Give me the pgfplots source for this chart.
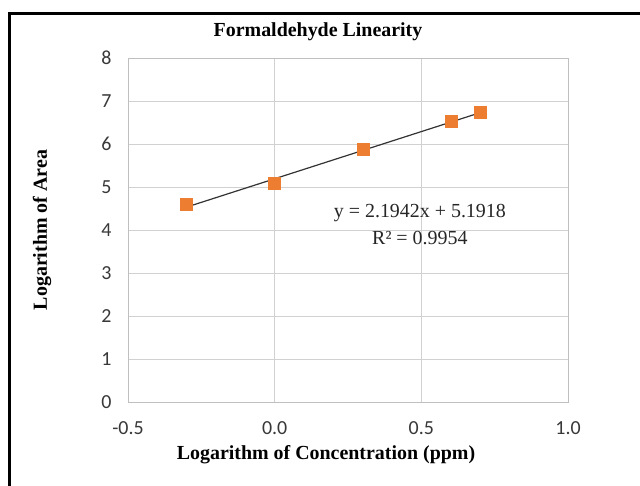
\documentclass[border=0pt]{standalone}
\usepackage{pgfplots}
\pgfplotsset{compat=1.18}
\usepackage{fontspec}
\setmainfont{Liberation Serif}
\newfontfamily\tickfont{Carlito}
\definecolor{excelorange}{HTML}{ED7D31}
\begin{document}
\begin{tikzpicture}[x=1bp,y=1bp]
\path[use as bounding box] (0,0) rectangle (640,486);
\fill[white] (0,0) rectangle (640,486);
\draw[black, line width=3bp] (9,0) -- (9,472) -- (640,472);
\begin{axis}[at={(128bp,84bp)}, anchor=south west,
  width=440bp, height=344bp, scale only axis,
  xmin=-0.5, xmax=1, ymin=0, ymax=8,
  xtick={-0.5,0,0.5,1}, xticklabels={-0.5,0.0,0.5,1.0},
  ytick={0,1,...,8},
  grid=major, grid style={draw=black!18, line width=0.8bp},
  axis line style={draw=black!25, line width=0.8bp},
  tick style={draw=none},
  ticklabel style={font=\tickfont\fontsize{20}{20}\selectfont, text=black!78},
  /pgf/number format/assume math mode=true,
  yticklabel style={xshift=-13bp},
  xticklabel style={yshift=-16bp},
  clip=false]
\addplot[draw=black!80, line width=1.2bp] coordinates {(-0.301,4.531) (0.699,6.725)};
\addplot[only marks, mark=square*, mark size=6bp, mark options={fill=excelorange, draw=excelorange}]
  coordinates {(-0.301,4.60) (0,5.09) (0.301,5.88) (0.602,6.54) (0.699,6.73)};
\node[font=\fontsize{20}{20}\selectfont, text=black!85] at (axis cs:0.495,4.40) {y = 2.1942x + 5.1918};
\node[font=\fontsize{20}{20}\selectfont, text=black!85] at (axis cs:0.495,3.81) {R² = 0.9954};
\end{axis}
\node[font=\bfseries\fontsize{20}{20}\selectfont] at (318,454) {Formaldehyde Linearity};
\node[font=\bfseries\fontsize{20}{20}\selectfont] at (326,31) {Logarithm of Concentration (ppm)};
\node[font=\bfseries\fontsize{20}{20}\selectfont, rotate=90] at (42,256) {Logarithm of Area};
\end{tikzpicture}
\end{document}
